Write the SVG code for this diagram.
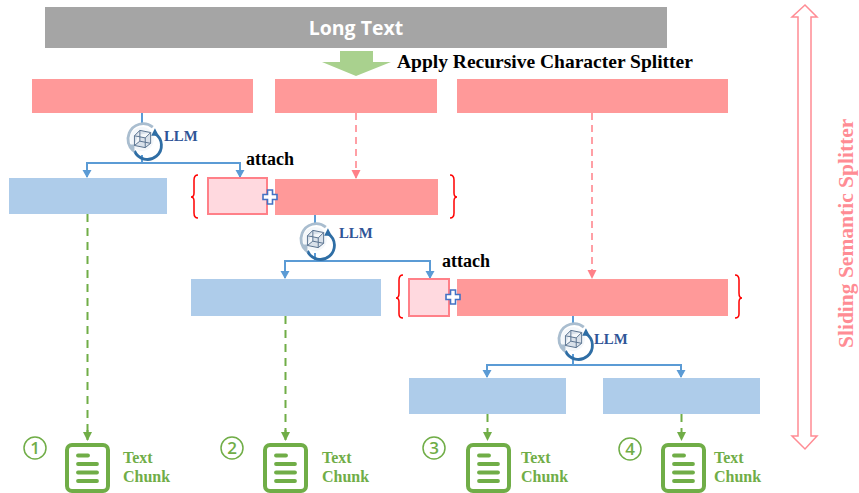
<svg xmlns="http://www.w3.org/2000/svg" width="859" height="493" viewBox="0 0 859 493">
<style>
.pink{fill:#FF9999}
.blue{fill:#AECCEA}
.small{fill:#FFD9DF;stroke:#FF8088;stroke-width:2}
.blueline{fill:none;stroke:#5B9BD5;stroke-width:2}
.green{fill:none;stroke:#70AD47;stroke-width:2;stroke-dasharray:8 6}
.greensolid{fill:none;stroke:#70AD47;stroke-width:2}
.red{fill:none;stroke:#FF8088;stroke-width:1.5;stroke-dasharray:7 5}
.brace{fill:none;stroke:#FF0000;stroke-width:1.500}
.serif{font-family:"Liberation Serif","DejaVu Serif",serif;font-weight:bold}
.llm{font-size:14.800px;fill:#2F5597}
.att{font-size:18px;fill:#000}
.chunk{font-size:16px;fill:#70AD47}
.num{font-family:"Open Sans","Liberation Sans",sans-serif;font-size:17px;font-weight:600;fill:#70AD47;text-anchor:middle}
</style>
<defs>
<marker id="ab" markerWidth="10" markerHeight="10" refX="7" refY="4.500" orient="auto" markerUnits="userSpaceOnUse"><path d="M0 0L8 4.500L0 9Z" fill="#5B9BD5"/></marker>
<marker id="ag" markerWidth="11" markerHeight="10" refX="8" refY="4.500" orient="auto" markerUnits="userSpaceOnUse"><path d="M0 0L9 4.500L0 9Z" fill="#70AD47"/></marker>
<marker id="ar" markerWidth="11" markerHeight="10" refX="8" refY="4.500" orient="auto" markerUnits="userSpaceOnUse"><path d="M0 0L9 4.500L0 9Z" fill="#FF8088"/></marker>
<g id="icon" transform="scale(1.080)">
<circle cx="0" cy="0" r="11" fill="#F4F7FA"/>
<path d="M12 -5A13 13 0 1 1 -7 11" fill="none" stroke="#2F6EA5" stroke-width="2.600"/>
<path d="M12 -10L15.500 -3L8.500 -3Z" fill="#2F6EA5"/>
<path d="M-8 11A14 14 0 0 1 -12 -5A14 14 0 0 1 10 -11" fill="none" stroke="#A9BDCF" stroke-width="2.600"/>
<path d="M-13 5L-7 5L-7 13Z" fill="#A9BDCF"/>
<path d="M-7 -3L-2 -8L8 -6V4L3 8L-7 6ZM-7 -3L3 -1L8 -6M3 -1V8M-7 6L-2 2V-8M-2 2L8 4" fill="#D9E1EA" stroke="#5A7390" stroke-width="0.900"/>
</g>
<g id="plus"><path d="M-2.500 -7H2.500V-2.500H7V2.500H2.500V7H-2.500V2.500H-7V-2.500H-2.500Z" fill="#fff" stroke="#4472C4" stroke-width="1.600"/></g>
<g id="doc">
<rect x="2" y="2" width="41" height="46" rx="5" fill="#fff" stroke="#70AD47" stroke-width="4"/>
<g stroke="#70AD47" stroke-width="3.800" stroke-linecap="round"><line x1="13" y1="12.500" x2="23" y2="12.500"/><line x1="13" y1="21" x2="32" y2="21"/><line x1="13" y1="29.500" x2="32" y2="29.500"/><line x1="13" y1="38" x2="32" y2="38"/></g>
</g>
</defs>

<g id="connectors">
<path class="blueline" d="M142 113V123M142 155V163M87 177V163H240V177" marker-end="url(#ab)"/>
<path class="blueline" d="M87 163V177" marker-end="url(#ab)"/>
<path class="blueline" d="M315 215V224M315 253V261M285 278V261H430V278" marker-end="url(#ab)"/>
<path class="blueline" d="M285 261V278" marker-end="url(#ab)"/>
<path class="blueline" d="M573 316V324M573 354V365M487 377V365H681V377" marker-end="url(#ab)"/>
<path class="blueline" d="M487 365V377" marker-end="url(#ab)"/>
<path class="red" d="M356 113V178" marker-end="url(#ar)"/>
<path class="red" d="M592 113V278" marker-end="url(#ar)"/>
<path class="green" d="M87.500 214V433"/><path class="greensolid" d="M87.500 430V440" marker-end="url(#ag)"/>
<path class="green" d="M285.500 316V433"/><path class="greensolid" d="M285.500 430V440" marker-end="url(#ag)"/>
<path class="green" d="M487.500 414V440" marker-end="url(#ag)"/>
<path class="green" d="M681.500 414V440" marker-end="url(#ag)"/>
</g>

<g id="long-text"><rect x="45" y="7" width="622" height="41" fill="#A5A5A5"/>
<text x="356" y="35" font-family="'Open Sans','Liberation Sans',sans-serif" font-size="19.500" font-weight="bold" fill="#fff" text-anchor="middle">Long Text</text></g>
<g id="split-arrow"><path d="M340 51H373V62H391L356 76L322 62H340Z" fill="#A9D18E"/>
<text class="serif" x="397" y="68" font-size="19.500" fill="#000">Apply Recursive Character Splitter</text></g>

<g id="seg1"><rect class="pink" x="32" y="79" width="221" height="34"/></g>
<g id="seg2"><rect class="pink" x="275" y="79" width="162" height="34"/></g>
<g id="seg3"><rect class="pink" x="457" y="79" width="271" height="34"/></g>

<g id="llm1"><use href="#icon" x="142" y="139"/><text class="serif llm" x="164" y="141">LLM</text></g>
<g id="llm2"><use href="#icon" x="315" y="239"/><text class="serif llm" x="339" y="238">LLM</text></g>
<g id="llm3"><use href="#icon" x="573" y="339"/><text class="serif llm" x="594" y="344">LLM</text></g>

<g id="attach1"><text class="serif att" x="246" y="165">attach</text></g>
<g id="attach2"><text class="serif att" x="442" y="267">attach</text></g>

<g id="blue1"><rect class="blue" x="9" y="178" width="158" height="36"/></g>
<g id="group2">
<path class="brace" d="M198 175Q194 175 194 180V193Q194 197 191 197Q194 197 194 201V213Q194 218 198 218"/>
<rect class="small" x="208" y="178" width="59" height="36"/>
<rect class="pink" x="275" y="179" width="163" height="36"/>
<use href="#plus" x="270" y="197"/>
<path class="brace" d="M450 175Q454 175 454 180V193Q454 197 457 197Q454 197 454 201V213Q454 218 450 218"/>
</g>
<g id="blue2"><rect class="blue" x="191" y="279" width="190" height="37"/></g>
<g id="group3">
<path class="brace" d="M403 275Q399 275 399 280V293Q399 298 396 298Q399 298 399 302V314Q399 318 403 318"/>
<rect class="small" x="409" y="279" width="40" height="37"/>
<rect class="pink" x="457" y="279" width="271" height="37"/>
<use href="#plus" x="453" y="297"/>
<path class="brace" d="M735 275Q739 275 739 280V293Q739 298 742 298Q739 298 739 302V314Q739 318 735 318"/>
</g>
<g id="blue3"><rect class="blue" x="409" y="378" width="157" height="36"/></g>
<g id="blue4"><rect class="blue" x="603" y="378" width="157" height="36"/></g>

<g id="chunk1"><circle cx="35" cy="448" r="11" fill="none" stroke="#70AD47" stroke-width="1.500"/><text class="num" x="35" y="454">1</text><use href="#doc" x="65" y="443"/><text class="serif chunk" x="123" y="463">Text</text><text class="serif chunk" x="123" y="482">Chunk</text></g>
<g id="chunk2"><circle cx="232" cy="448" r="11" fill="none" stroke="#70AD47" stroke-width="1.500"/><text class="num" x="232" y="454">2</text><use href="#doc" x="263" y="443"/><text class="serif chunk" x="322" y="463">Text</text><text class="serif chunk" x="322" y="482">Chunk</text></g>
<g id="chunk3"><circle cx="434" cy="448" r="11" fill="none" stroke="#70AD47" stroke-width="1.500"/><text class="num" x="434" y="454">3</text><use href="#doc" x="466" y="443"/><text class="serif chunk" x="521" y="463">Text</text><text class="serif chunk" x="521" y="482">Chunk</text></g>
<g id="chunk4"><circle cx="630" cy="449" r="11" fill="none" stroke="#70AD47" stroke-width="1.500"/><text class="num" x="630" y="455">4</text><use href="#doc" x="661" y="443"/><text class="serif chunk" x="714" y="463">Text</text><text class="serif chunk" x="714" y="482">Chunk</text></g>

<g id="sliding"><path d="M805 5L817 17H811V436H817L805 449L792 436H798V17H792Z" fill="#fff" stroke="#FF8C94" stroke-width="1.500"/>
<text class="serif" transform="translate(853 348) rotate(-90)" font-size="21.500" fill="#FF8C94">Sliding Semantic Splitter</text></g>
</svg>
